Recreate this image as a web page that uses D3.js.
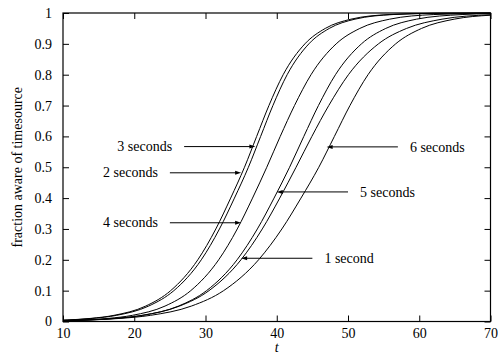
<!DOCTYPE html>
<html>
<head>
<meta charset="utf-8">
<script src="https://cdn.jsdelivr.net/npm/d3@7"></script>
<style>
  body { margin: 0; background: #fff; }
</style>
</head>
<body>
<div id="chart"></div>
<script>
// values: [t, fraction aware]
const xTicks = [10, 20, 30, 40, 50, 60, 70];
const yTicks = [0, 0.1, 0.2, 0.3, 0.4, 0.5, 0.6, 0.7, 0.8, 0.9, 1];

const sec1 = [[10,0.0027],[13.34,0.005],[17.2,0.01],[21.11,0.02],[26.36,0.05],[30.49,0.1],[34.98,0.2],[37.97,0.3],[40.42,0.4],[42.71,0.5],[44.93,0.6],[47.3,0.7],[50.06,0.8],[54.27,0.9],[58.22,0.95],[63.2,0.98],[70,0.9944]];
const sec2 = [[10,0.0044],[10.58,0.005],[13.85,0.01],[17.16,0.02],[21.61,0.05],[25.11,0.1],[28.92,0.2],[31.45,0.3],[33.53,0.4],[35.47,0.5],[37.18,0.6],[38.9,0.7],[40.9,0.8],[43.95,0.9],[46.81,0.95],[50.42,0.98],[55.77,0.995],[61.93,0.999],[70,1]];
const sec3 = [[10,0.0042],[10.88,0.005],[14.19,0.01],[17.53,0.02],[22.02,0.05],[25.56,0.1],[29.41,0.2],[31.96,0.3],[34.06,0.4],[36.02,0.5],[37.74,0.6],[39.46,0.7],[41.46,0.8],[44.51,0.9],[47.37,0.95],[50.98,0.98],[56.33,0.995],[62.49,0.999],[70,1]];
const sec4 = [[10,0.0027],[12.96,0.005],[16.33,0.01],[19.74,0.02],[24.32,0.05],[27.93,0.1],[31.85,0.2],[34.46,0.3],[36.6,0.4],[38.6,0.5],[40.49,0.6],[42.49,0.7],[44.81,0.8],[48.34,0.9],[51.66,0.95],[55.85,0.98],[62.05,0.995],[70,0.9992]];
const sec5 = [[10,0.0024],[13.8,0.005],[17.48,0.01],[21.2,0.02],[26.21,0.05],[30.15,0.1],[34.43,0.2],[37.28,0.3],[39.62,0.4],[41.8,0.5],[43.8,0.6],[45.85,0.7],[48.24,0.8],[51.89,0.9],[55.3,0.95],[59.62,0.98],[66.01,0.995],[70,0.9979]];
const sec6 = [[10,0.0027],[13.8,0.005],[18.01,0.01],[22.28,0.02],[28.02,0.05],[32.54,0.1],[37.45,0.2],[40.72,0.3],[43.4,0.4],[45.9,0.5],[48.09,0.6],[50.27,0.7],[52.81,0.8],[56.69,0.9],[60.32,0.95],[64.9,0.98],[70,0.9929]];
const curves = [sec1, sec2, sec3, sec4, sec5, sec6];

// arrow labels, in data coordinates (gnuplot style "set arrow from ... to ...")
const labelText = ["3 seconds", "2 seconds", "4 seconds", "5 seconds", "6 seconds", "1 second"];
const arrowFromT = [27, 25, 25, 50, 57, 45];
const arrowToT = [37, 35, 35, 40, 47, 35];
const arrowF = [0.567, 0.482, 0.32, 0.42, 0.566, 0.205];

const width = 498, height = 354;
const margin = { top: 13, right: 7.5, bottom: 32.5, left: 63 };
const serif = '"Liberation Serif", Tinos, serif';
const fontSize = 14;

const svg = d3.select("#chart").append("svg")
  .attr("width", width)
  .attr("height", height)
  .style("display", "block");

const x = d3.scaleLinear().domain([10, 70]).range([margin.left, width - margin.right]);
const y = d3.scaleLinear().domain([0, 1]).range([height - margin.bottom, margin.top]);

// axes, ticks pointing inward, mirrored on top and right
svg.append("g")
  .attr("transform", `translate(0,${y(0)})`)
  .call(d3.axisBottom(x).tickValues(xTicks).tickFormat(d3.format("d")).tickSizeInner(-6).tickSizeOuter(0).tickPadding(7))
  .call(g => g.select(".domain").remove());

svg.append("g")
  .attr("transform", `translate(0,${y(1)})`)
  .call(d3.axisTop(x).tickValues(xTicks).tickFormat("").tickSizeInner(-6).tickSizeOuter(0))
  .call(g => g.select(".domain").remove());

svg.append("g")
  .attr("transform", `translate(${x(10)},0)`)
  .call(d3.axisLeft(y).tickValues(yTicks).tickFormat(d => d === 0 || d === 1 ? String(d) : d3.format(".1f")(d)).tickSizeInner(-6).tickSizeOuter(0).tickPadding(11))
  .call(g => g.select(".domain").remove());

svg.append("g")
  .attr("transform", `translate(${x(70)},0)`)
  .call(d3.axisRight(y).tickValues(yTicks).tickFormat("").tickSizeInner(-6).tickSizeOuter(0))
  .call(g => g.select(".domain").remove());

svg.selectAll(".tick text")
  .style("font-family", serif)
  .attr("font-size", fontSize)
  .attr("fill", "#000");
svg.selectAll(".tick line").attr("stroke", "#000");

// plot border
svg.append("rect")
  .attr("x", x(10))
  .attr("y", y(1))
  .attr("width", x(70) - x(10))
  .attr("height", y(0) - y(1))
  .attr("fill", "none")
  .attr("stroke", "#000")
  .attr("stroke-width", 1.2);

// curves
const line = d3.line()
  .x(d => x(d[0]))
  .y(d => y(d[1]))
  .curve(d3.curveMonotoneX);

svg.selectAll("path.curve")
  .data(curves)
  .join("path")
  .attr("class", "curve")
  .attr("d", line)
  .attr("fill", "none")
  .attr("stroke", "#000")
  .attr("stroke-width", 1);

// arrows with labels
const arrows = labelText.map((t, i) => ({ text: t, x1: arrowFromT[i], x2: arrowToT[i], f: arrowF[i] }));

const ag = svg.append("g");
arrows.forEach(a => {
  const xs = x(a.x1), xe = x(a.x2), yy = y(a.f);
  const dir = Math.sign(xe - xs);
  ag.append("line")
    .attr("x1", xs).attr("y1", yy)
    .attr("x2", xe - dir * 4).attr("y2", yy)
    .attr("stroke", "#000")
    .attr("stroke-width", 1);
  ag.append("path")
    .attr("d", `M${xe},${yy}L${xe - dir * 6},${yy - 2}L${xe - dir * 6},${yy + 2}Z`)
    .attr("fill", "#000");
  ag.append("text")
    .attr("x", xs - dir * 12)
    .attr("y", yy)
    .attr("dy", "0.33em")
    .attr("text-anchor", dir > 0 ? "end" : "start")
    .style("font-family", serif)
    .attr("font-size", fontSize)
    .text(a.text);
});

// axis titles
svg.append("text")
  .attr("x", (x(10) + x(70)) / 2)
  .attr("y", 351.5)
  .attr("text-anchor", "middle")
  .style("font-family", serif)
  .attr("font-size", fontSize)
  .attr("font-style", "italic")
  .text("t");

svg.append("text")
  .attr("transform", `translate(22,${(y(0) + y(1)) / 2}) rotate(-90)`)
  .attr("text-anchor", "middle")
  .style("font-family", serif)
  .attr("font-size", fontSize)
  .text("fraction aware of timesource");
</script>
</body>
</html>
